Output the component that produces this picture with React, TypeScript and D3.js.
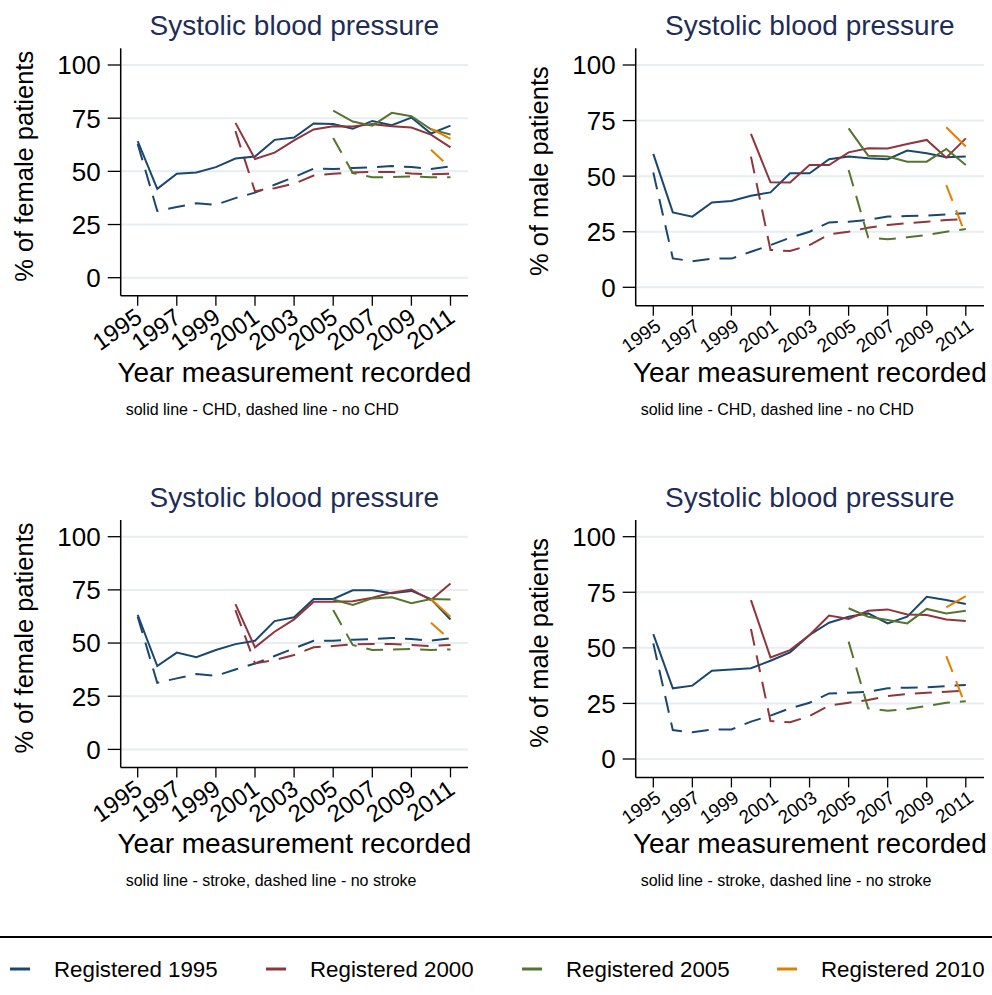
import React from 'react';
import * as d3 from 'd3';

const YEARS = [1995, 1996, 1997, 1998, 1999, 2000, 2001, 2002, 2003, 2004, 2005, 2006, 2007, 2008, 2009, 2010, 2011];
const X_TICKS = [1995, 1997, 1999, 2001, 2003, 2005, 2007, 2009, 2011];
const Y_TICKS = [0, 25, 50, 75, 100];
const COHORT_LABELS = ['Registered 1995', 'Registered 2000', 'Registered 2005', 'Registered 2010'];
const COHORT_START = [1995, 2000, 2005, 2010];
const COLORS = ['#1a476f', '#90353b', '#55752f', '#e37e00'];

const TITLE = 'Systolic blood pressure';
const X_TITLE = 'Year measurement recorded';

// Female, CHD
const femaleChdSolid = [
  [64.2, 41.8, 48.9, 49.5, 52, 56, 57, 64.8, 65.9, 72.5, 72.3, 70, 73.7, 71.7, 75.3, 67.8, 71.5],
  [72.8, 55.8, 58.8, 64.6, 69.7, 71.2, 71.1, 72.2, 71.2, 70.6, 67.3, 61.3],
  [78.6, 73.4, 71.5, 77.5, 75.9, 69.7, 67.3],
  [70.1, 65.3],
];
const femaleChdDashed = [
  [62.9, 31.4, 33.2, 35, 34.3, 37.4, 40, 43.7, 47.3, 51.3, 51.1, 51.6, 51.9, 52.5, 52, 51.1, 52.4],
  [68.9, 40.6, 42.1, 44.2, 48, 48.9, 49.5, 49.7, 49.7, 49, 48.6, 48.9],
  [65.7, 49.2, 47.2, 47.3, 47.6, 47.2, 47.2],
  [60.2, 51.6],
];
// Male, CHD
const maleChdSolid = [
  [60, 33.7, 31.8, 38.2, 38.8, 41.2, 42.7, 51.3, 51.3, 57.6, 58.8, 58, 57.6, 61.5, 60.3, 58.5, 58.8],
  [69, 47.2, 47.1, 55, 55, 60.7, 62.5, 62.4, 64.5, 66.3, 58.3, 67],
  [71.5, 59.2, 58.8, 56.5, 56.5, 62.2, 55],
  [72, 63.3],
];
const maleChdDashed = [
  [51.6, 13, 11.7, 12.9, 12.9, 16, 19, 22.3, 25, 29.2, 29.5, 30.3, 31.8, 32.1, 32.2, 32.8, 33.3],
  [58.8, 16.8, 16.3, 19, 23.8, 25, 26.8, 28, 28.8, 29.5, 30.3, 30.6],
  [52.8, 22.5, 21.6, 22.5, 23.5, 25, 26.2],
  [46, 23.5],
];
// Female, stroke
const femaleStrokeSolid = [
  [63.2, 39.2, 45.5, 43.3, 46.7, 49.5, 51.1, 60.3, 62.1, 70.7, 70.7, 74.8, 74.8, 73.4, 74.5, 70.7, 61.1],
  [68.3, 48, 55.3, 61.1, 69.4, 69.4, 69.7, 71.3, 73.7, 75.2, 70.2, 78],
  [70.5, 67.9, 71, 71.5, 68.7, 70.7, 70.5],
  [70.7, 62.4],
];
const femaleStrokeDashed = [
  [62.4, 31.3, 33.4, 35.4, 34.6, 37.6, 40.4, 43.9, 47.5, 51.1, 51.1, 51.6, 51.9, 52.4, 51.9, 51.1, 52.2],
  [65.5, 40.4, 42, 44.4, 48, 48.6, 49.4, 49.5, 49.5, 49.1, 48.6, 49.1],
  [65.5, 49.1, 46.7, 47, 47.2, 46.7, 47],
  [59.6, 51.4],
];
// Male, stroke
const maleStrokeSolid = [
  [56.2, 31.8, 33, 39.7, 40.3, 40.8, 44.2, 48, 55.8, 61.3, 64, 65.5, 61, 64, 73, 71.5, 69.7],
  [71.5, 45.7, 49, 55.8, 64.5, 63, 66.7, 67.3, 65, 64.8, 62.8, 62.1],
  [67.8, 64, 62.5, 61, 67.5, 65.5, 66.7],
  [68.2, 73.3],
];
const maleStrokeDashed = [
  [52, 13, 12, 13.3, 13.3, 16.8, 19.5, 22.8, 25.3, 29.5, 29.8, 30.3, 31.8, 32.1, 32.2, 32.8, 33.3],
  [58.5, 17.1, 16.5, 19.3, 24, 25.3, 26.5, 28.3, 29.2, 29.8, 30.3, 30.7],
  [52.8, 22.8, 21.7, 22.5, 23.8, 25.3, 26],
  [46.3, 23.8],
];

const FONT = "'Liberation Sans', Arial, Helvetica, sans-serif";

type PanelCfg = {
  axisX: number; right: number; top: number; axisY: number;
  x1995: number; x2011: number; y0: number; y100: number;
  tickFont: number; lblDx: number; lblDy: number;
  yTitle: string; note: string;
  solid: number[][]; dashed: number[][];
};

function Panel({ c }: { c: PanelCfg }) {
  const x = d3.scaleLinear().domain([1995, 2011]).range([c.x1995, c.x2011]);
  const y = d3.scaleLinear().domain([0, 100]).range([c.y0, c.y100]);
  const line = d3.line<[number, number]>().x(d => x(d[0])).y(d => y(d[1]));
  const series = (vals: number[][]) =>
    vals.map((v, i) => {
      const start = YEARS.indexOf(COHORT_START[i]);
      const pts = v.map((val, j) => [YEARS[start + j], val] as [number, number]);
      return { i, d: line(pts) as string };
    });
  const midX = (c.axisX + c.right) / 2;
  const midY = (c.y0 + c.y100) / 2 - 5;
  const tickBottom = c.axisY + 10;
  return (
    <g>
      {Y_TICKS.map(t => (
        <line key={'g' + t} x1={c.axisX} x2={c.right} y1={y(t)} y2={y(t)} stroke="#e6eef1" strokeWidth={2} />
      ))}
      {series(c.dashed).map(s => (
        <path key={'d' + s.i} d={s.d} fill="none" stroke={COLORS[s.i]} strokeWidth={2} strokeDasharray="17,10" />
      ))}
      {series(c.solid).map(s => (
        <path key={'s' + s.i} d={s.d} fill="none" stroke={COLORS[s.i]} strokeWidth={2} />
      ))}
      <line x1={c.axisX} x2={c.axisX} y1={c.top} y2={c.axisY} stroke="#000" strokeWidth={1.5} />
      <line x1={c.axisX} x2={c.right} y1={c.axisY} y2={c.axisY} stroke="#000" strokeWidth={1.5} />
      {Y_TICKS.map(t => (
        <g key={'yt' + t}>
          <line x1={c.axisX - 13} x2={c.axisX} y1={y(t)} y2={y(t)} stroke="#000" strokeWidth={1.3} />
          <text x={c.axisX - 20} y={y(t)} dy="0.36em" textAnchor="end" fontSize={26} fontFamily={FONT} fill="#000">{t}</text>
        </g>
      ))}
      {X_TICKS.map(t => (
        <g key={'xt' + t}>
          <line x1={x(t)} x2={x(t)} y1={c.axisY} y2={tickBottom} stroke="#000" strokeWidth={1.3} />
          <text transform={`translate(${x(t) + c.lblDx},${tickBottom + c.lblDy}) rotate(-35)`} dy="0.72em" textAnchor="end"
            fontSize={c.tickFont} fontFamily={FONT} fill="#000">{t}</text>
        </g>
      ))}
      <text x={midX} y={35} textAnchor="middle" fontSize={28} fontFamily={FONT} fill="#1e2d58">{TITLE}</text>
      <text transform={`translate(${c.axisX - 87.5},${midY}) rotate(-90)`} textAnchor="middle" fontSize={25.5} fontFamily={FONT} fill="#000">{c.yTitle}</text>
      <text x={midX} y={381.5} textAnchor="middle" fontSize={28} fontFamily={FONT} fill="#000">{X_TITLE}</text>
      <text x={c.axisX + 5} y={414.5} fontSize={16} fontFamily={FONT} fill="#000">{c.note}</text>
    </g>
  );
}

const base = {
  left: { axisX: 120.7, right: 468, top: 48.3, axisY: 295.7, x1995: 137.7, x2011: 450.5, y0: 277.7, y100: 65, tickFont: 24, lblDx: -4, lblDy: 1 },
  right: { axisX: 635.7, right: 984, top: 48.3, axisY: 305.7, x1995: 653.3, x2011: 965.8, y0: 287.3, y100: 65, tickFont: 19, lblDx: 1, lblDy: 2 },
};

export default function App() {
  const rowShift = 471.7;
  const panels: { cfg: PanelCfg; dy: number }[] = [
    { cfg: { ...base.left, yTitle: '% of female patients', note: 'solid line - CHD, dashed line - no CHD', solid: femaleChdSolid, dashed: femaleChdDashed }, dy: 0 },
    { cfg: { ...base.right, yTitle: '% of male patients', note: 'solid line - CHD, dashed line - no CHD', solid: maleChdSolid, dashed: maleChdDashed }, dy: 0 },
    { cfg: { ...base.left, yTitle: '% of female patients', note: 'solid line - stroke, dashed line - no stroke', solid: femaleStrokeSolid, dashed: femaleStrokeDashed }, dy: rowShift },
    { cfg: { ...base.right, yTitle: '% of male patients', note: 'solid line - stroke, dashed line - no stroke', solid: maleStrokeSolid, dashed: maleStrokeDashed }, dy: rowShift },
  ];
  const legendX = [10, 266, 522, 777];
  return (
    <svg width={992} height={995} style={{ position: 'absolute', left: 0, top: 0, background: '#fff' }}>
      <rect width={992} height={995} fill="#fff" />
      {panels.map((p, i) => (
        <g key={i} transform={`translate(0,${p.dy})`}>
          <Panel c={p.cfg} />
        </g>
      ))}
      <line x1={0} x2={992} y1={937} y2={937} stroke="#000" strokeWidth={2} />
      {COHORT_LABELS.map((l, i) => (
        <g key={l}>
          <line x1={legendX[i]} x2={legendX[i] + 20} y1={969} y2={969} stroke={COLORS[i]} strokeWidth={3} />
          <text x={legendX[i] + 44} y={977} fontSize={22.3} fontFamily={FONT} fill="#000">{l}</text>
        </g>
      ))}
    </svg>
  );
}
